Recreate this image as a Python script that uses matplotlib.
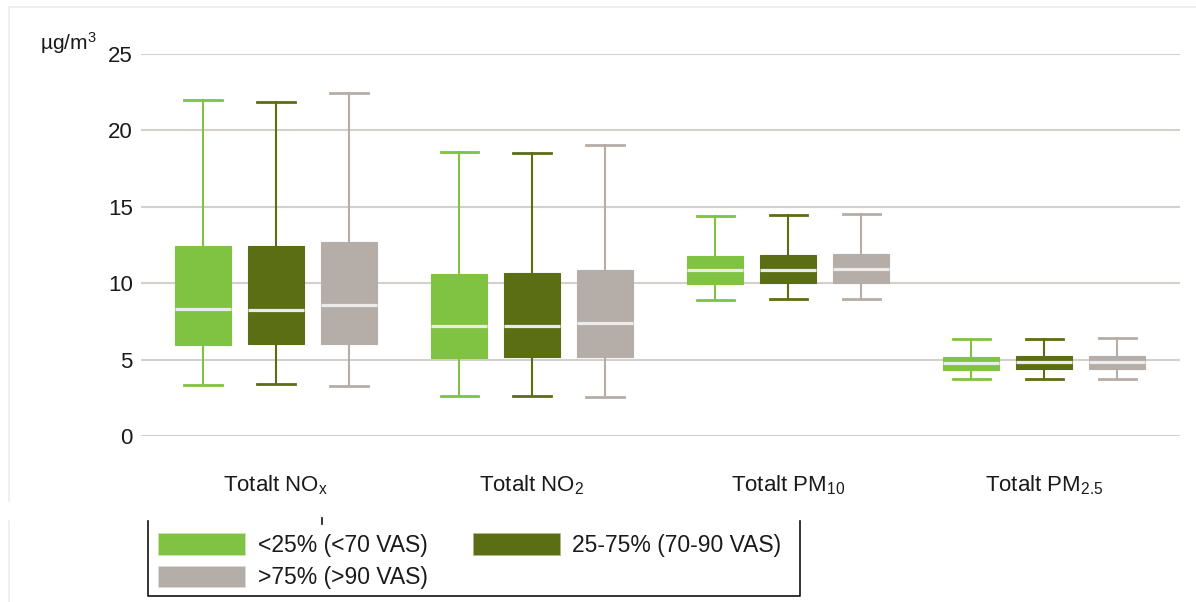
import numpy as np
import matplotlib
matplotlib.use('Agg')
import matplotlib.pyplot as plt
from matplotlib.patches import Patch
from matplotlib.lines import Line2D

plt.rcParams['font.family'] = ['Liberation Sans', 'DejaVu Sans']
plt.rcParams['mathtext.fontset'] = 'custom'
plt.rcParams['mathtext.rm'] = 'Liberation Sans'
plt.rcParams['mathtext.default'] = 'regular'

# categories on the x axis
groups = ['Totalt NO$_x$', 'Totalt NO$_2$', 'Totalt PM$_{10}$', 'Totalt PM$_{2.5}$']
series = ['<25% (<70 VAS)', '25-75% (70-90 VAS)', '>75% (>90 VAS)']
colors = ['#80c241', '#5c6e14', '#b5ada7']

# box stats per series (whisker low, q1, median, q3, whisker high)
low_lo = [3.34, 2.62, 8.90, 3.73]
low_q1 = [5.96, 5.10, 9.93, 4.32]
low_med = [8.31, 7.20, 10.84, 4.76]
low_q3 = [12.43, 10.60, 11.80, 5.17]
low_hi = [22.00, 18.59, 14.42, 6.33]

mid_lo = [3.40, 2.62, 8.97, 3.75]
mid_q1 = [6.02, 5.17, 9.99, 4.38]
mid_med = [8.25, 7.20, 10.86, 4.82]
mid_q3 = [12.43, 10.67, 11.87, 5.26]
mid_hi = [21.86, 18.52, 14.48, 6.37]

high_lo = [3.27, 2.55, 8.97, 3.75]
high_q1 = [6.02, 5.17, 9.99, 4.38]
high_med = [8.57, 7.40, 10.91, 4.82]
high_q3 = [12.70, 10.86, 11.89, 5.26]
high_hi = [22.45, 19.04, 14.55, 6.41]

yticks = [0, 5, 10, 15, 20, 25]


def make_stats(lo, q1, med, q3, hi):
	stats = []
	for i in range(len(lo)):
		stats.append({'whislo': lo[i], 'q1': q1[i], 'med': med[i],
					  'q3': q3[i], 'whishi': hi[i], 'fliers': []})
	return stats


def main():
	W, H = 1196, 602
	fig = plt.figure(figsize=(W / 100, H / 100), dpi=100)
	ax = fig.add_axes([141 / W, 1 - 436 / H, (1180 - 141) / W, (436 - 54) / H])

	all_stats = [
		make_stats(low_lo, low_q1, low_med, low_q3, low_hi),
		make_stats(mid_lo, mid_q1, mid_med, mid_q3, mid_hi),
		make_stats(high_lo, high_q1, high_med, high_q3, high_hi),
	]

	x = np.arange(len(groups))
	offset = 0.285
	for k, stats in enumerate(all_stats):
		c = colors[k]
		ax.bxp(stats, positions=x + (k - 1) * offset, widths=0.22, capwidths=0.145,
			   patch_artist=True, showfliers=False, manage_ticks=False,
			   boxprops=dict(facecolor=c, edgecolor=c, linewidth=0.8),
			   whiskerprops=dict(color=c, linewidth=1.5),
			   capprops=dict(color=c, linewidth=2),
			   medianprops=dict(color='#ebebeb', linewidth=2.3, solid_capstyle='butt'),
			   zorder=3)

	for y in yticks:
		ax.axhline(y, color='#d5d0cc', linewidth=1.5, zorder=1)

	ax.set_xlim(-0.527, 3.53)
	ax.set_ylim(0, 25)
	ax.set_yticks(yticks)
	ax.set_xticks(x)
	ax.set_xticklabels(groups)
	ax.tick_params(axis='both', length=0, labelsize=16, colors='#1a1a1a')
	ax.tick_params(axis='y', pad=6)
	ax.tick_params(axis='x', pad=27)
	for s in ax.spines.values():
		s.set_visible(False)

	fig.text(40 / W, 1 - 50 / H, 'µg/m$^3$', fontsize=15, ha='left', va='baseline', color='#1a1a1a')

	# faint outer frame
	fig.add_artist(Line2D([9 / W, 1], [1 - 7 / H, 1 - 7 / H], color='#ececec', linewidth=1.2))
	fig.add_artist(Line2D([9 / W, 9 / W], [1 - 7 / H, 1 - 501 / H], color='#ececec', linewidth=1.2))
	fig.add_artist(Line2D([9 / W, 9 / W], [1 - 521 / H, 0], color='#ececec', linewidth=1.2))

	# legend
	handles = [Patch(facecolor=colors[0], edgecolor='#cfe6b5', linewidth=0.5),
			   Patch(facecolor=colors[2], edgecolor='#e0dcd9', linewidth=0.5),
			   Patch(facecolor=colors[1], edgecolor='#b0b98a', linewidth=0.5)]
	labels = [series[0], series[2], series[1]]
	fig.legend(handles, labels, ncol=2, frameon=False, loc='upper left',
			   bbox_to_anchor=(140 / W, 1 - 515 / H), fontsize=16.5,
			   handlelength=3.8, handleheight=1.05, handletextpad=0.55,
			   columnspacing=1.95, labelspacing=0.4, borderpad=0.3,
			   labelcolor='#1a1a1a')

	# partial legend border (top is cut off in the original)
	fig.add_artist(Line2D([148 / W, 148 / W, 800 / W, 800 / W],
						  [1 - 521 / H, 1 - 596 / H, 1 - 596 / H, 1 - 521 / H],
						  color='#111111', linewidth=1.2))
	fig.add_artist(Line2D([322 / W, 322 / W], [1 - 518 / H, 1 - 524 / H], color='#111111', linewidth=1.2))

	fig.savefig('out.png', dpi=100, facecolor='white')


if __name__ == '__main__':
	main()
